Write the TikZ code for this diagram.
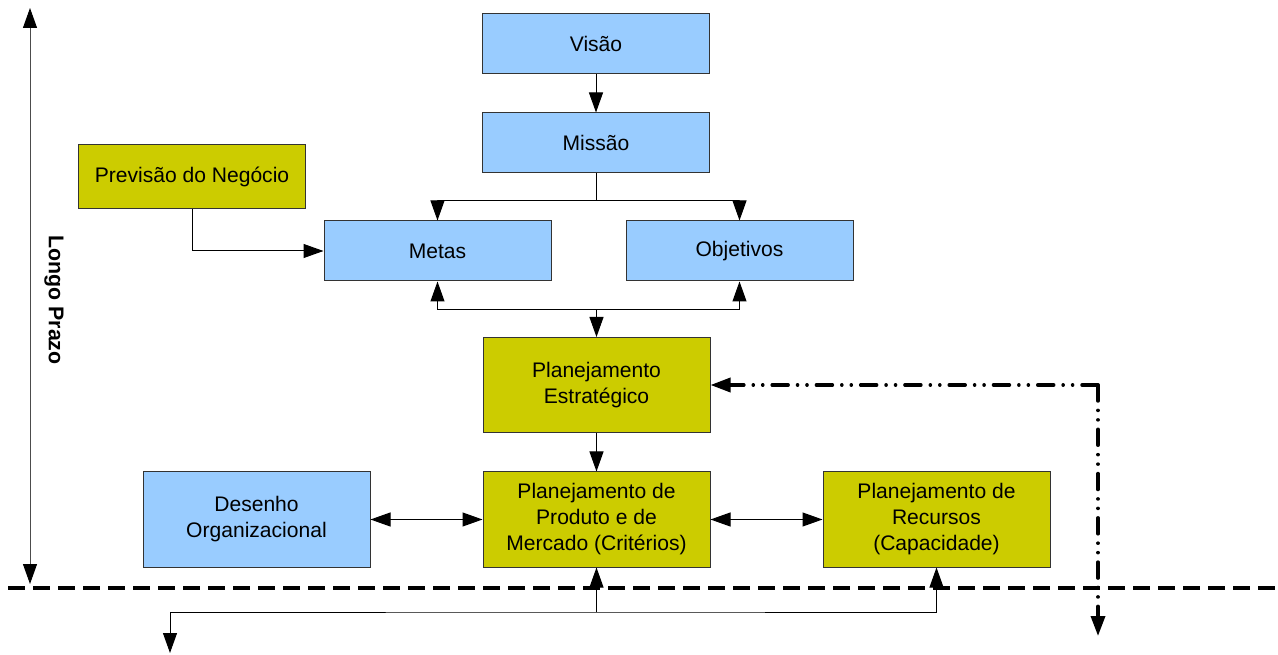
\documentclass[tikz,border=0pt]{standalone}
\usepackage{fontspec}
\setmainfont{Liberation Sans}
\usepackage{tikz}
\usetikzlibrary{arrows.meta}
\definecolor{azul}{RGB}{153,204,255}
\definecolor{oliva}{RGB}{204,204,0}

\tikzset{
  caixa/.style={draw=black!80, line width=0.75pt, align=center, inner sep=0.75pt,
    minimum width=170.25pt, font=\fontsize{15.8}{19.5}\selectfont},
  azulbox/.style={caixa, fill=azul, minimum height=45pt},
  olivabox/.style={caixa, fill=oliva, minimum height=71.25pt},
  ponta/.tip={Triangle[length=15pt,width=10.5pt,color=black]},
  seta/.style={-ponta, line width=0.75pt},
  setas/.style={ponta-ponta, line width=0.75pt},
  tracejado/.style={line width=2.6pt, dash pattern=on 12.75pt off 6pt},
  tracoponto/.style={line width=2.6pt, line cap=round,
    dash pattern=on 12pt off 7pt on 0.1pt off 7pt on 0.1pt off 7pt, -ponta}
}

\begin{document}
\begin{tikzpicture}[x=0.75pt,y=0.75pt,yscale=-1,xscale=1]
\useasboundingbox (0,0) rectangle (1278,655);

% Caixas
\node[azulbox] (visao) at (596,44) {Visão};
\node[azulbox] (missao) at (596,143) {Missão};
\node[caixa, fill=oliva, minimum height=48pt] (previsao) at (192,177) {Previsão do Negócio};
\node[azulbox] (metas) at (437.5,251) {Metas};
\node[azulbox] (objetivos) at (739.5,251) {Objetivos};
\node[olivabox] (estrategico) at (596.5,385) {Planejamento\\Estratégico};
\node[azulbox, minimum height=71.25pt] (desenho) at (256.5,519.5) {Desenho\\Organizacional};
\node[olivabox] (produto) at (596.5,519.5) {Planejamento de\\Produto e de\\Mercado (Critérios)};
\node[olivabox] (recursos) at (936.5,519.5) {Planejamento de\\Recursos\\(Capacidade)};

% Longo prazo
\coordinate (lptopo) at (30,8);
\coordinate (lpbase) at (30,584);
\draw[setas, draw=black!70] (lptopo) -- (lpbase);
\node[rotate=-90, font=\bfseries\fontsize{16}{19}\selectfont] (prazo) at (54,300) {Longo Prazo};

% Ligacoes de cima
\draw[seta] (visao) -- (missao);
\coordinate (jcima) at (596,201);
\draw[line width=0.75pt] (missao.south) -- (jcima);
\draw[seta] (jcima) -| (metas.north);
\draw[seta] (jcima) -| (objetivos.north);
\draw[seta] (previsao.south) |- (metas.west);

\coordinate (jbaixo) at (596.5,310);
\draw[seta] (jbaixo) -| (metas.south);
\draw[seta] (jbaixo) -| (objetivos.south);
\draw[seta] (jbaixo) -- (estrategico.north);

% Planejamento
\draw[seta] (estrategico) -- (produto);
\draw[setas] (desenho) -- (produto);
\draw[setas] (produto) -- (recursos);

% Linha do longo prazo
\coordinate (linha1) at (8,588);
\coordinate (linha2) at (1278,588);
\draw[tracejado] (linha1) -- (linha2);

% Realimentacao
\coordinate (canto) at (1098,385);
\coordinate (fim) at (1098,636);
\draw[tracoponto] (canto) -- (estrategico.east);
\draw[tracoponto] (canto) -- (fim);

% Saidas de baixo
\coordinate (jprod) at (596.5,612);
\coordinate (jrec) at (936.5,612);
\coordinate (saida) at (170,653);
\draw[seta] (jprod) -- (produto.south);
\draw[seta] (jrec) -- (recursos.south);
\draw[seta] (jrec) -- (jprod) -| (saida);

\end{tikzpicture}
\end{document}
